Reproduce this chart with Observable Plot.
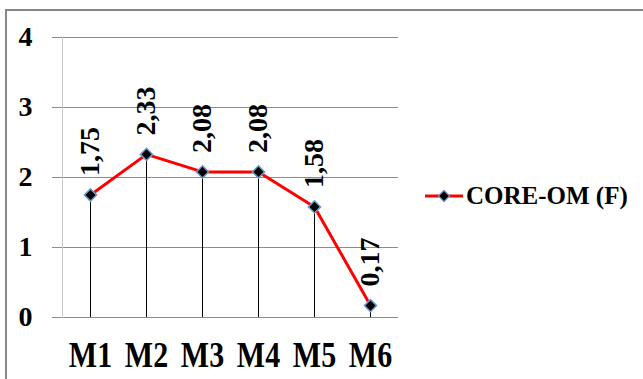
<!DOCTYPE html>
<html>
<head>
<meta charset="utf-8">
<script src="https://cdn.jsdelivr.net/npm/d3@7"></script>
<script src="https://cdn.jsdelivr.net/npm/@observablehq/plot@0.6"></script>
<style>
  html, body { margin: 0; padding: 0; background: #fff; overflow: hidden; width: 643px; height: 379px; }
  #wrap { position: relative; width: 643px; height: 379px; font-family: "Liberation Serif", "Times New Roman", serif; }
  #frame { position: absolute; left: 5px; top: 9px; width: 700px; height: 450px;
           border-top: 2px solid #888; border-left: 2px solid #888; }
  #chart { position: absolute; left: 0; top: 0; }
  #legend { position: absolute; left: 425px; top: 182px; display: flex; align-items: center;
            font-weight: bold; font-size: 25px; color: #000; white-space: nowrap; }
  #legend svg { margin-right: 3px; }
</style>
</head>
<body>
<div id="wrap">
  <div id="frame"></div>
  <div id="chart"></div>
  <div id="legend"></div>
</div>
<script>
// CORE-OM (F) mean scores per measurement point
const months = ["M1", "M2", "M3", "M4", "M5", "M6"];
const scores = [1.75, 2.33, 2.08, 2.08, 1.58, 0.17];
const yTicks = [0, 1, 2, 3, 4];
const seriesName = "CORE-OM (F)";

const lineColor = "#ff0000";
const markerFill = "#000000";
const markerStroke = "#6d98cf";

const data = months.map((m, i) => ({month: m, score: scores[i]}));
const commaFmt = v => d3.format(".2f")(v).replace(".", ",");

const chart = Plot.plot({
  width: 643,
  height: 379,
  marginLeft: 62,
  marginRight: 245,
  marginTop: 37,
  marginBottom: 62,
  style: {fontFamily: '"Liberation Serif", "Times New Roman", serif', fontWeight: "bold", background: "transparent", color: "#000"},
  x: {type: "point", domain: months, padding: 0.5, label: null},
  y: {domain: [0, 4], label: null},
  marks: [
    Plot.ruleY(yTicks, {stroke: "#8c8c8c", strokeWidth: 1}),
    Plot.frame({anchor: "left", stroke: "#c8c8c8", strokeWidth: 1}),
    Plot.axisY({ticks: yTicks, label: null, tickSize: 10, tickPadding: 20, stroke: "#8c8c8c", strokeOpacity: 1, fontSize: 28, tickFormat: d => String(d)}),
    Plot.ruleX(data, {x: "month", y1: 0, y2: "score", stroke: "#000", strokeWidth: 1}),
    Plot.line(data, {x: "month", y: "score", stroke: lineColor, strokeWidth: 3}),
    Plot.dot(data, {x: "month", y: "score", symbol: "diamond2", r: 5.5, fill: markerFill, stroke: markerStroke, strokeWidth: 1.5}),
    Plot.text(data, {x: "month", y: "score", text: d => commaFmt(d.score), rotate: -90,
                     textAnchor: "start", lineAnchor: "middle", dy: -19, fontSize: 28, fill: "#000"}),
    Plot.axisX({label: null, tickSize: 0, tickPadding: 24, fontSize: 30})
  ]
});
document.getElementById("chart").appendChild(chart);

// Month labels are set a little taller than wide
d3.select(chart).selectAll('[aria-label="x-axis tick label"] text')
  .attr("transform", function () { return this.getAttribute("transform") + " scale(1,1.18)"; });

// Legend: line with diamond marker, then the series name
const legend = d3.select("#legend");
const sw = legend.append("svg").attr("width", 38).attr("height", 16);
sw.append("line").attr("x1", 0).attr("x2", 38).attr("y1", 8).attr("y2", 8)
  .attr("stroke", lineColor).attr("stroke-width", 3);
sw.append("path").attr("d", d3.symbol(d3.symbolDiamond2, Math.PI * 5 * 5)())
  .attr("transform", "translate(19,8)")
  .attr("fill", markerFill).attr("stroke", markerStroke).attr("stroke-width", 1.2);
legend.append("span").text(seriesName);
</script>
</body>
</html>
